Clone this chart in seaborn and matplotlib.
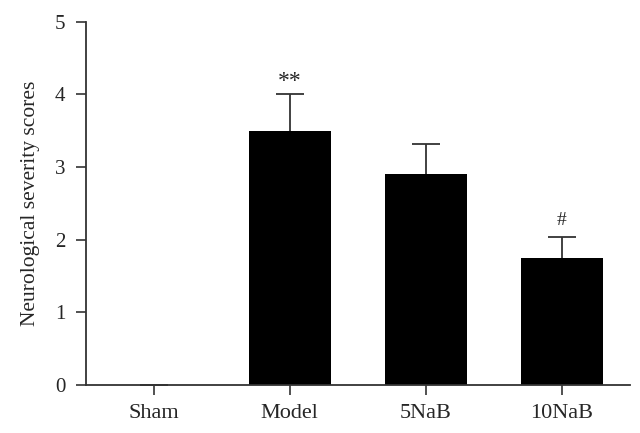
import pandas as pd
import seaborn as sns
import matplotlib.pyplot as plt

groups = ["Sham", "Model", "5NaB", "10NaB"]
scores = [0.0, 3.5, 2.9, 1.75]
sem = [0.0, 0.5, 0.42, 0.28]
marks = ["", "**", "", "#"]

df = pd.DataFrame({"Group": groups, "Score": scores, "SEM": sem})

sns.set_style("ticks")
plt.rcParams["font.family"] = ["Liberation Serif", "DejaVu Serif"]

fig = plt.figure(figsize=(6.4, 4.33), dpi=100)
ax = fig.add_axes([0.134, 0.111, 0.850, 0.839])

sns.barplot(data=df, x="Group", y="Score", color="black", width=0.6,
            saturation=1, errorbar=None, linewidth=0, ax=ax, zorder=3)

# error bars only go up, lower half hidden behind the bars
ax.errorbar(range(len(groups)), df["Score"], yerr=df["SEM"],
            fmt="none", ecolor="#333333", elinewidth=1.3, capsize=10, capthick=1.3,
            zorder=2)

for i, m in enumerate(marks):
    if m == "**":
        ax.text(i, scores[i] + sem[i] + 0.03, m, ha="center", va="bottom", fontsize=17)
    elif m:
        ax.text(i, scores[i] + sem[i] + 0.12, m, ha="center", va="bottom", fontsize=14)

ax.set_xlim(-0.5, 3.5)
ax.set_ylim(0, 5)
ax.set_yticks([0, 1, 2, 3, 4, 5])
ax.set_xlabel("")
ax.set_ylabel("Neurological severity scores", fontsize=15.5, labelpad=11)
ax.tick_params(axis="both", labelsize=15, length=7.5, width=1.2, color="#333333")
ax.tick_params(axis="x", labelsize=16, pad=6)
ax.tick_params(axis="y", pad=7)

sns.despine(ax=ax)
for s in ["left", "bottom"]:
    ax.spines[s].set_linewidth(1.3)
    ax.spines[s].set_color("#333333")
    ax.spines[s].set_zorder(4)

plt.savefig("out.png", dpi=100)
